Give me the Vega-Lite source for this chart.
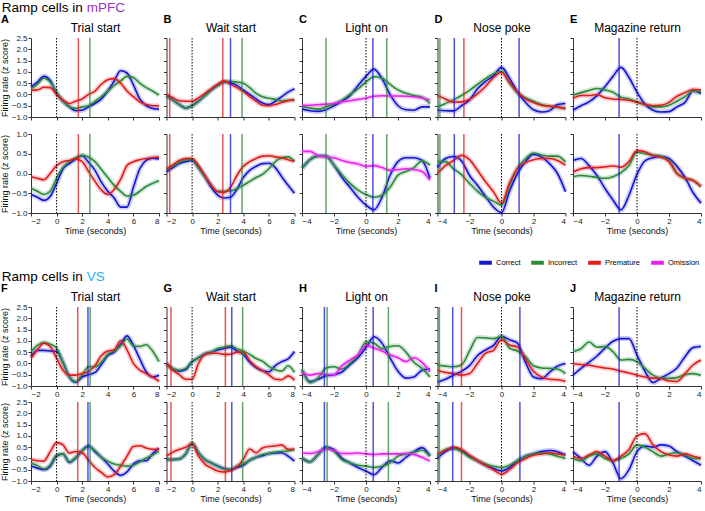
{
"$schema":"https://vega.github.io/schema/vega-lite/v6.json",
"padding":{"left":0,"top":0,"right":0,"bottom":0},
"spacing":33,
"datasets":{
"events":[
{"k":"A","s":"r","x":1.7},{"k":"A","s":"i","x":2.6},
{"k":"B","s":"r","x":-1.75},{"k":"B","s":"r","x":2.4},{"k":"B","s":"c","x":3.0},{"k":"B","s":"i","x":3.9},
{"k":"C","s":"i","x":-2.5},{"k":"C","s":"c","x":0.43},{"k":"C","s":"i","x":1.3},
{"k":"D","s":"i","x":-3.85},{"k":"D","s":"c","x":-2.95},{"k":"D","s":"r","x":-2.35},{"k":"D","s":"c","x":1.1},
{"k":"E","s":"c","x":-1.12},
{"k":"F","s":"r","x":1.65},{"k":"F","s":"c","x":2.45},{"k":"F","s":"i","x":2.62},
{"k":"G","s":"r","x":-1.65},{"k":"G","s":"r","x":2.6},{"k":"G","s":"c","x":3.1},{"k":"G","s":"i","x":3.95},
{"k":"H","s":"c","x":-2.6},{"k":"H","s":"i","x":-2.43},{"k":"H","s":"c","x":0.45},{"k":"H","s":"i","x":1.4},
{"k":"I","s":"i","x":-3.88},{"k":"I","s":"c","x":-3.05},{"k":"I","s":"r","x":-2.5},{"k":"I","s":"c","x":1.15},
{"k":"J","s":"c","x":-1.12}
],
"curves":[
{"k":"A1","t":-2,"c":0.34,"i":0.26,"r":0.19},{"k":"A1","t":-1.5,"c":0.55,"i":0.45,"r":0.2},{"k":"A1","t":-1,"c":0.8,"i":0.72,"r":0.32},{"k":"A1","t":-0.5,"c":0.62,"i":0.55,"r":0.3},{"k":"A1","t":0,"c":0.05,"i":0.1,"r":0},{"k":"A1","t":0.5,"c":-0.3,"i":-0.3,"r":-0.25},{"k":"A1","t":1,"c":-0.55,"i":-0.55,"r":-0.4},{"k":"A1","t":1.5,"c":-0.72,"i":-0.62,"r":-0.3},{"k":"A1","t":2,"c":-0.7,"i":-0.55,"r":-0.2},{"k":"A1","t":2.5,"c":-0.55,"i":-0.5,"r":0},{"k":"A1","t":3,"c":-0.4,"i":-0.3,"r":0.15},{"k":"A1","t":3.5,"c":-0.2,"i":-0.1,"r":0.45},{"k":"A1","t":4,"c":0.15,"i":0.15,"r":0.65},{"k":"A1","t":4.5,"c":0.6,"i":0.4,"r":0.7},{"k":"A1","t":5,"c":1.05,"i":0.6,"r":0.5},{"k":"A1","t":5.5,"c":0.95,"i":0.8,"r":0.15},{"k":"A1","t":6,"c":0.42,"i":0.75,"r":-0.1},{"k":"A1","t":6.5,"c":-0.2,"i":0.5,"r":-0.33},{"k":"A1","t":7,"c":-0.5,"i":0.3,"r":-0.45},{"k":"A1","t":7.5,"c":-0.62,"i":0.15,"r":-0.5},{"k":"A1","t":8,"c":-0.65,"i":-0.03,"r":-0.5},
{"k":"A2","t":-2,"c":-0.53,"i":-0.37,"r":-0.08},{"k":"A2","t":-1.5,"c":-0.6,"i":-0.45,"r":-0.12},{"k":"A2","t":-1,"c":-0.68,"i":-0.53,"r":-0.16},{"k":"A2","t":-0.5,"c":-0.58,"i":-0.45,"r":0},{"k":"A2","t":0,"c":-0.25,"i":-0.12,"r":0.2},{"k":"A2","t":0.5,"c":0.12,"i":0.15,"r":0.3},{"k":"A2","t":1,"c":0.25,"i":0.3,"r":0.33},{"k":"A2","t":1.5,"c":0.37,"i":0.4,"r":0.37},{"k":"A2","t":2,"c":0.45,"i":0.46,"r":0.3},{"k":"A2","t":2.5,"c":0.28,"i":0.42,"r":0.05},{"k":"A2","t":3,"c":0.08,"i":0.3,"r":-0.2},{"k":"A2","t":3.5,"c":-0.22,"i":0.1,"r":-0.42},{"k":"A2","t":4,"c":-0.45,"i":-0.1,"r":-0.53},{"k":"A2","t":4.5,"c":-0.62,"i":-0.3,"r":-0.4},{"k":"A2","t":5,"c":-0.85,"i":-0.45,"r":-0.15},{"k":"A2","t":5.5,"c":-0.85,"i":-0.57,"r":0.2},{"k":"A2","t":6,"c":-0.35,"i":-0.55,"r":0.3},{"k":"A2","t":6.5,"c":0.12,"i":-0.45,"r":0.35},{"k":"A2","t":7,"c":0.33,"i":-0.33,"r":0.38},{"k":"A2","t":7.5,"c":0.39,"i":-0.25,"r":0.4},{"k":"A2","t":8,"c":0.37,"i":-0.18,"r":0.42},
{"k":"B1","t":-2,"c":-0.05,"i":-0.05,"r":0},{"k":"B1","t":-1.5,"c":-0.25,"i":-0.25,"r":-0.15},{"k":"B1","t":-1,"c":-0.45,"i":-0.45,"r":-0.28},{"k":"B1","t":-0.5,"c":-0.6,"i":-0.6,"r":-0.3},{"k":"B1","t":0,"c":-0.5,"i":-0.5,"r":-0.3},{"k":"B1","t":0.5,"c":-0.3,"i":-0.3,"r":-0.15},{"k":"B1","t":1,"c":-0.05,"i":-0.05,"r":0.05},{"k":"B1","t":1.5,"c":0.2,"i":0.2,"r":0.25},{"k":"B1","t":2,"c":0.4,"i":0.4,"r":0.45},{"k":"B1","t":2.5,"c":0.55,"i":0.55,"r":0.6},{"k":"B1","t":3,"c":0.52,"i":0.58,"r":0.45},{"k":"B1","t":3.5,"c":0.4,"i":0.55,"r":0.3},{"k":"B1","t":4,"c":0.2,"i":0.5,"r":0.12},{"k":"B1","t":4.5,"c":0,"i":0.3,"r":-0.1},{"k":"B1","t":5,"c":-0.2,"i":0.05,"r":-0.3},{"k":"B1","t":5.5,"c":-0.38,"i":-0.1,"r":-0.48},{"k":"B1","t":6,"c":-0.45,"i":-0.17,"r":-0.5},{"k":"B1","t":6.5,"c":-0.3,"i":-0.22,"r":-0.45},{"k":"B1","t":7,"c":-0.1,"i":-0.28,"r":-0.35},{"k":"B1","t":7.5,"c":0.1,"i":-0.26,"r":-0.28},{"k":"B1","t":8,"c":0.25,"i":-0.25,"r":-0.25},
{"k":"B2","t":-2,"c":0.04,"i":0.1,"r":0.12},{"k":"B2","t":-1.5,"c":0.15,"i":0.18,"r":0.22},{"k":"B2","t":-1,"c":0.25,"i":0.28,"r":0.33},{"k":"B2","t":-0.5,"c":0.3,"i":0.35,"r":0.38},{"k":"B2","t":0,"c":0.33,"i":0.35,"r":0.38},{"k":"B2","t":0.5,"c":0.15,"i":0.15,"r":0.2},{"k":"B2","t":1,"c":-0.08,"i":-0.08,"r":-0.05},{"k":"B2","t":1.5,"c":-0.35,"i":-0.3,"r":-0.3},{"k":"B2","t":2,"c":-0.55,"i":-0.45,"r":-0.46},{"k":"B2","t":2.5,"c":-0.62,"i":-0.45,"r":-0.48},{"k":"B2","t":3,"c":-0.6,"i":-0.44,"r":-0.35},{"k":"B2","t":3.5,"c":-0.4,"i":-0.38,"r":-0.05},{"k":"B2","t":4,"c":-0.1,"i":-0.3,"r":0.18},{"k":"B2","t":4.5,"c":0.08,"i":-0.2,"r":0.3},{"k":"B2","t":5,"c":0.18,"i":-0.1,"r":0.38},{"k":"B2","t":5.5,"c":0.25,"i":-0.02,"r":0.44},{"k":"B2","t":6,"c":0.26,"i":0.12,"r":0.45},{"k":"B2","t":6.5,"c":0.15,"i":0.3,"r":0.42},{"k":"B2","t":7,"c":-0.08,"i":0.4,"r":0.4},{"k":"B2","t":7.5,"c":-0.3,"i":0.42,"r":0.35},{"k":"B2","t":8,"c":-0.5,"i":0.3,"r":0.31},
{"k":"C1","t":-4,"c":-0.64,"i":-0.52,"o":-0.49},{"k":"C1","t":-3.5,"c":-0.72,"i":-0.6,"o":-0.48},{"k":"C1","t":-3,"c":-0.75,"i":-0.65,"o":-0.46},{"k":"C1","t":-2.5,"c":-0.68,"i":-0.55,"o":-0.43},{"k":"C1","t":-2,"c":-0.5,"i":-0.42,"o":-0.4},{"k":"C1","t":-1.5,"c":-0.3,"i":-0.25,"o":-0.33},{"k":"C1","t":-1,"c":-0.05,"i":0,"o":-0.28},{"k":"C1","t":-0.5,"c":0.4,"i":0.25,"o":-0.22},{"k":"C1","t":0,"c":0.8,"i":0.55,"o":-0.17},{"k":"C1","t":0.5,"c":1.12,"i":0.78,"o":-0.08},{"k":"C1","t":1,"c":0.7,"i":0.72,"o":-0.06},{"k":"C1","t":1.5,"c":0,"i":0.45,"o":-0.07},{"k":"C1","t":2,"c":-0.5,"i":0.2,"o":-0.07},{"k":"C1","t":2.5,"c":-0.68,"i":0.05,"o":-0.08},{"k":"C1","t":3,"c":-0.7,"i":-0.05,"o":-0.1},{"k":"C1","t":3.5,"c":-0.55,"i":-0.12,"o":-0.16},{"k":"C1","t":4,"c":-0.55,"i":-0.4,"o":-0.25},
{"k":"C2","t":-4,"c":0.13,"i":0.13,"o":0.56},{"k":"C2","t":-3.5,"c":0.35,"i":0.35,"o":0.56},{"k":"C2","t":-3,"c":0.44,"i":0.44,"o":0.45},{"k":"C2","t":-2.5,"c":0.44,"i":0.44,"o":0.42},{"k":"C2","t":-2,"c":0.21,"i":0.21,"o":0.4},{"k":"C2","t":-1.5,"c":-0.1,"i":-0.03,"o":0.33},{"k":"C2","t":-1,"c":-0.35,"i":-0.25,"o":0.28},{"k":"C2","t":-0.5,"c":-0.6,"i":-0.42,"o":0.24},{"k":"C2","t":0,"c":-0.8,"i":-0.53,"o":0.18},{"k":"C2","t":0.5,"c":-0.92,"i":-0.6,"o":0.2},{"k":"C2","t":1,"c":-0.6,"i":-0.55,"o":0.15},{"k":"C2","t":1.5,"c":-0.05,"i":-0.35,"o":0.08},{"k":"C2","t":2,"c":0.3,"i":-0.04,"o":0.1},{"k":"C2","t":2.5,"c":0.4,"i":0.05,"o":0.12},{"k":"C2","t":3,"c":0.4,"i":0.15,"o":0.1},{"k":"C2","t":3.5,"c":0.33,"i":0.32,"o":0.05},{"k":"C2","t":4,"c":-0.12,"i":0.21,"o":-0.17},
{"k":"D1","t":-4,"c":-0.7,"i":-0.55,"r":-0.04},{"k":"D1","t":-3.5,"c":-0.72,"i":-0.4,"r":-0.2},{"k":"D1","t":-3,"c":-0.73,"i":-0.24,"r":-0.35},{"k":"D1","t":-2.5,"c":-0.5,"i":-0.05,"r":-0.33},{"k":"D1","t":-2,"c":-0.25,"i":0.18,"r":-0.22},{"k":"D1","t":-1.5,"c":0.25,"i":0.45,"r":0.02},{"k":"D1","t":-1,"c":0.58,"i":0.7,"r":0.35},{"k":"D1","t":-0.5,"c":0.82,"i":0.92,"r":0.75},{"k":"D1","t":0,"c":1.2,"i":1.03,"r":0.97},{"k":"D1","t":0.5,"c":0.72,"i":0.5,"r":0.55},{"k":"D1","t":1,"c":0.1,"i":0.08,"r":0.1},{"k":"D1","t":1.5,"c":-0.35,"i":-0.15,"r":-0.2},{"k":"D1","t":2,"c":-0.68,"i":-0.3,"r":-0.36},{"k":"D1","t":2.5,"c":-0.78,"i":-0.45,"r":-0.48},{"k":"D1","t":3,"c":-0.72,"i":-0.52,"r":-0.52},{"k":"D1","t":3.5,"c":-0.45,"i":-0.57,"r":-0.55},{"k":"D1","t":4,"c":-0.4,"i":-0.63,"r":-0.63},
{"k":"D2","t":-4,"c":0.15,"i":0.3,"r":0},{"k":"D2","t":-3.5,"c":0.38,"i":0.3,"r":0.2},{"k":"D2","t":-3,"c":0.43,"i":0.12,"r":0.33},{"k":"D2","t":-2.5,"c":0.32,"i":-0.03,"r":0.46},{"k":"D2","t":-2,"c":-0.05,"i":-0.25,"r":0.35},{"k":"D2","t":-1.5,"c":-0.3,"i":-0.45,"r":0.08},{"k":"D2","t":-1,"c":-0.58,"i":-0.6,"r":-0.21},{"k":"D2","t":-0.5,"c":-0.85,"i":-0.7,"r":-0.46},{"k":"D2","t":0,"c":-0.99,"i":-0.8,"r":-0.75},{"k":"D2","t":0.5,"c":-0.45,"i":-0.3,"r":-0.25},{"k":"D2","t":1,"c":0,"i":0.13,"r":0.13},{"k":"D2","t":1.5,"c":0.3,"i":0.38,"r":0.28},{"k":"D2","t":2,"c":0.48,"i":0.52,"r":0.35},{"k":"D2","t":2.5,"c":0.42,"i":0.47,"r":0.38},{"k":"D2","t":3,"c":0.25,"i":0.44,"r":0.38},{"k":"D2","t":3.5,"c":0,"i":0.44,"r":0.33},{"k":"D2","t":4,"c":-0.46,"i":0.29,"r":0.21},
{"k":"E1","t":-4,"c":-0.7,"i":-0.03,"r":-0.18},{"k":"E1","t":-3.5,"c":-0.5,"i":0.08,"r":-0.05},{"k":"E1","t":-3,"c":-0.33,"i":0.18,"r":-0.05},{"k":"E1","t":-2.5,"c":-0.05,"i":0.26,"r":0},{"k":"E1","t":-2,"c":0.35,"i":0.2,"r":-0.15},{"k":"E1","t":-1.5,"c":0.8,"i":0.1,"r":-0.2},{"k":"E1","t":-1,"c":1.2,"i":-0.12,"r":-0.22},{"k":"E1","t":-0.5,"c":0.75,"i":-0.2,"r":-0.26},{"k":"E1","t":0,"c":0.1,"i":-0.33,"r":-0.35},{"k":"E1","t":0.5,"c":-0.43,"i":-0.45,"r":-0.45},{"k":"E1","t":1,"c":-0.7,"i":-0.55,"r":-0.5},{"k":"E1","t":1.5,"c":-0.78,"i":-0.55,"r":-0.48},{"k":"E1","t":2,"c":-0.76,"i":-0.48,"r":-0.35},{"k":"E1","t":2.5,"c":-0.55,"i":-0.3,"r":-0.08},{"k":"E1","t":3,"c":-0.35,"i":-0.1,"r":0.08},{"k":"E1","t":3.5,"c":0.15,"i":0.15,"r":0.22},{"k":"E1","t":4,"c":0.04,"i":0.12,"r":0.2},
{"k":"E2","t":-4,"c":0.33,"i":-0.08,"r":0.04},{"k":"E2","t":-3.5,"c":0.38,"i":-0.05,"r":0.12},{"k":"E2","t":-3,"c":0.2,"i":-0.07,"r":0.15},{"k":"E2","t":-2.5,"c":-0.05,"i":-0.1,"r":0.15},{"k":"E2","t":-2,"c":-0.38,"i":-0.12,"r":0.17},{"k":"E2","t":-1.5,"c":-0.67,"i":-0.08,"r":0.19},{"k":"E2","t":-1,"c":-0.92,"i":0.02,"r":0.16},{"k":"E2","t":-0.5,"c":-0.55,"i":0.2,"r":0.3},{"k":"E2","t":0,"c":-0.02,"i":0.54,"r":0.58},{"k":"E2","t":0.5,"c":0.32,"i":0.5,"r":0.55},{"k":"E2","t":1,"c":0.4,"i":0.47,"r":0.45},{"k":"E2","t":1.5,"c":0.43,"i":0.43,"r":0.42},{"k":"E2","t":2,"c":0.38,"i":0.33,"r":0.3},{"k":"E2","t":2.5,"c":0.18,"i":0,"r":0},{"k":"E2","t":3,"c":-0.1,"i":-0.12,"r":-0.12},{"k":"E2","t":3.5,"c":-0.48,"i":-0.18,"r":-0.17},{"k":"E2","t":4,"c":-0.75,"i":-0.33,"r":-0.33},
{"k":"F1","t":-2,"c":0.3,"i":0.53,"r":0.23},{"k":"F1","t":-1.5,"c":0.58,"i":0.8,"r":0.6},{"k":"F1","t":-1,"c":0.58,"i":0.93,"r":0.9},{"k":"F1","t":-0.5,"c":0.55,"i":0.85,"r":0.75},{"k":"F1","t":0,"c":0.53,"i":0.68,"r":0.23},{"k":"F1","t":0.5,"c":0.05,"i":0.05,"r":-0.3},{"k":"F1","t":1,"c":-0.6,"i":-0.6,"r":-0.52},{"k":"F1","t":1.5,"c":-0.83,"i":-0.8,"r":-0.52},{"k":"F1","t":2,"c":-0.6,"i":-0.5,"r":-0.45},{"k":"F1","t":2.5,"c":-0.5,"i":-0.15,"r":-0.35},{"k":"F1","t":3,"c":-0.4,"i":-0.15,"r":-0.1},{"k":"F1","t":3.5,"c":-0.05,"i":0.05,"r":0.35},{"k":"F1","t":4,"c":0.35,"i":0.4,"r":0.55},{"k":"F1","t":4.5,"c":0.5,"i":0.55,"r":0.6},{"k":"F1","t":5,"c":0.85,"i":0.78,"r":1},{"k":"F1","t":5.5,"c":1.22,"i":1.08,"r":0.6},{"k":"F1","t":6,"c":0.8,"i":0.78,"r":0},{"k":"F1","t":6.5,"c":0.2,"i":0.75,"r":-0.3},{"k":"F1","t":7,"c":-0.37,"i":0.83,"r":-0.45},{"k":"F1","t":7.5,"c":-0.6,"i":0.55,"r":-0.6},{"k":"F1","t":8,"c":-0.52,"i":0.08,"r":-0.79},
{"k":"F2","t":-2,"c":-0.34,"i":-0.2,"r":-0.05},{"k":"F2","t":-1.5,"c":-0.43,"i":-0.32,"r":-0.1},{"k":"F2","t":-1,"c":-0.5,"i":-0.47,"r":-0.12},{"k":"F2","t":-0.5,"c":-0.35,"i":-0.3,"r":0.3},{"k":"F2","t":0,"c":0.1,"i":0.15,"r":0.7},{"k":"F2","t":0.5,"c":0.2,"i":0.2,"r":0.6},{"k":"F2","t":1,"c":-0.18,"i":-0.15,"r":0.24},{"k":"F2","t":1.5,"c":0.02,"i":0.05,"r":0.31},{"k":"F2","t":2,"c":0.35,"i":0.35,"r":0.25},{"k":"F2","t":2.5,"c":0.56,"i":0.52,"r":-0.08},{"k":"F2","t":3,"c":0.3,"i":0.35,"r":-0.4},{"k":"F2","t":3.5,"c":0.05,"i":0.05,"r":-0.62},{"k":"F2","t":4,"c":-0.25,"i":-0.12,"r":-0.82},{"k":"F2","t":4.5,"c":-0.56,"i":-0.25,"r":-0.72},{"k":"F2","t":5,"c":-0.75,"i":-0.3,"r":-0.35},{"k":"F2","t":5.5,"c":-0.6,"i":-0.34,"r":0.1},{"k":"F2","t":6,"c":-0.25,"i":-0.3,"r":0.53},{"k":"F2","t":6.5,"c":-0.1,"i":-0.15,"r":0.56},{"k":"F2","t":7,"c":-0.1,"i":0.02,"r":0.46},{"k":"F2","t":7.5,"c":0.2,"i":0.15,"r":0.4},{"k":"F2","t":8,"c":0.46,"i":0.31,"r":0.4},
{"k":"G1","t":-2,"c":0,"i":-0.05,"r":0},{"k":"G1","t":-1.5,"c":-0.25,"i":-0.22,"r":-0.3},{"k":"G1","t":-1,"c":-0.34,"i":-0.3,"r":-0.5},{"k":"G1","t":-0.5,"c":-0.27,"i":-0.22,"r":-0.7},{"k":"G1","t":0,"c":0.08,"i":0.08,"r":-0.7},{"k":"G1","t":0.5,"c":0.25,"i":0.25,"r":0},{"k":"G1","t":1,"c":0.42,"i":0.42,"r":0.4},{"k":"G1","t":1.5,"c":0.5,"i":0.5,"r":0.45},{"k":"G1","t":2,"c":0.6,"i":0.66,"r":0.45},{"k":"G1","t":2.5,"c":0.66,"i":0.72,"r":0.4},{"k":"G1","t":3,"c":0.72,"i":0.78,"r":0.41},{"k":"G1","t":3.5,"c":0.55,"i":0.65,"r":0.5},{"k":"G1","t":4,"c":0.4,"i":0.55,"r":0.5},{"k":"G1","t":4.5,"c":0.05,"i":0.4,"r":0.12},{"k":"G1","t":5,"c":-0.18,"i":0.22,"r":-0.15},{"k":"G1","t":5.5,"c":-0.32,"i":0.1,"r":-0.32},{"k":"G1","t":6,"c":-0.37,"i":-0.13,"r":-0.5},{"k":"G1","t":6.5,"c":-0.1,"i":-0.28,"r":-0.7},{"k":"G1","t":7,"c":0.08,"i":-0.34,"r":-0.72},{"k":"G1","t":7.5,"c":0.2,"i":-0.1,"r":-0.55},{"k":"G1","t":8,"c":0.53,"i":-0.4,"r":-0.74},
{"k":"G2","t":-2,"c":-0.05,"i":-0.05,"r":0.1},{"k":"G2","t":-1.5,"c":-0.05,"i":-0.05,"r":0.28},{"k":"G2","t":-1,"c":-0.02,"i":-0.02,"r":0.4},{"k":"G2","t":-0.5,"c":0.2,"i":0.2,"r":0.5},{"k":"G2","t":0,"c":0.65,"i":0.68,"r":0.65},{"k":"G2","t":0.5,"c":0.25,"i":0.25,"r":0.1},{"k":"G2","t":1,"c":-0.05,"i":-0.05,"r":-0.25},{"k":"G2","t":1.5,"c":-0.2,"i":-0.2,"r":-0.42},{"k":"G2","t":2,"c":-0.34,"i":-0.34,"r":-0.56},{"k":"G2","t":2.5,"c":-0.45,"i":-0.47,"r":-0.6},{"k":"G2","t":3,"c":-0.49,"i":-0.5,"r":-0.53},{"k":"G2","t":3.5,"c":-0.4,"i":-0.35,"r":-0.38},{"k":"G2","t":4,"c":-0.3,"i":-0.25,"r":-0.05},{"k":"G2","t":4.5,"c":-0.08,"i":-0.08,"r":0.42},{"k":"G2","t":5,"c":0.05,"i":0.05,"r":0.25},{"k":"G2","t":5.5,"c":0.12,"i":0.17,"r":0.46},{"k":"G2","t":6,"c":0.22,"i":0.22,"r":0.53},{"k":"G2","t":6.5,"c":0.24,"i":0.28,"r":0.55},{"k":"G2","t":7,"c":0.25,"i":0.31,"r":0.6},{"k":"G2","t":7.5,"c":0.1,"i":0.33,"r":0.4},{"k":"G2","t":8,"c":-0.12,"i":0.39,"r":0.42},
{"k":"H1","t":-4,"c":-0.3,"i":-0.25,"o":-0.4},{"k":"H1","t":-3.5,"c":-0.8,"i":-0.85,"o":-0.52},{"k":"H1","t":-3,"c":-0.7,"i":-0.65,"o":-0.45},{"k":"H1","t":-2.5,"c":-0.55,"i":-0.2,"o":-0.5},{"k":"H1","t":-2,"c":-0.5,"i":-0.15,"o":-0.5},{"k":"H1","t":-1.5,"c":-0.38,"i":-0.25,"o":-0.1},{"k":"H1","t":-1,"c":-0.05,"i":0,"o":0.15},{"k":"H1","t":-0.5,"c":0.25,"i":0.35,"o":0.38},{"k":"H1","t":0,"c":0.7,"i":0.95,"o":0.8},{"k":"H1","t":0.5,"c":1.18,"i":0.9,"o":0.68},{"k":"H1","t":1,"c":0.9,"i":0.65,"o":0.55},{"k":"H1","t":1.5,"c":0.25,"i":0.75,"o":0.38},{"k":"H1","t":2,"c":-0.35,"i":0.78,"o":0.25},{"k":"H1","t":2.5,"c":-0.65,"i":0.5,"o":0.08},{"k":"H1","t":3,"c":-0.6,"i":0.05,"o":0.25},{"k":"H1","t":3.5,"c":-0.3,"i":-0.22,"o":0.05},{"k":"H1","t":4,"c":-0.25,"i":-0.6,"o":-0.37},
{"k":"H2","t":-4,"c":0.02,"i":0.02,"o":0.24},{"k":"H2","t":-3.5,"c":-0.15,"i":-0.15,"o":0.22},{"k":"H2","t":-3,"c":0.17,"i":0.17,"o":0.3},{"k":"H2","t":-2.5,"c":0.5,"i":0.48,"o":0.42},{"k":"H2","t":-2,"c":0.39,"i":0.31,"o":0.35},{"k":"H2","t":-1.5,"c":0,"i":-0.05,"o":0.22},{"k":"H2","t":-1,"c":-0.2,"i":-0.2,"o":0.22},{"k":"H2","t":-0.5,"c":-0.4,"i":-0.3,"o":0.24},{"k":"H2","t":0,"c":-0.56,"i":-0.34,"o":0.2},{"k":"H2","t":0.5,"c":-0.72,"i":-0.4,"o":0.17},{"k":"H2","t":1,"c":-0.4,"i":-0.35,"o":0.2},{"k":"H2","t":1.5,"c":-0.1,"i":-0.2,"o":0.2},{"k":"H2","t":2,"c":-0.2,"i":0.1,"o":0.2},{"k":"H2","t":2.5,"c":0.05,"i":0.2,"o":0.22},{"k":"H2","t":3,"c":0.3,"i":0.28,"o":0.18},{"k":"H2","t":3.5,"c":0.48,"i":0.36,"o":0.05},{"k":"H2","t":4,"c":0.1,"i":0.1,"o":-0.12},
{"k":"I1","t":-4,"c":-0.82,"i":-0.07,"r":-0.3},{"k":"I1","t":-3.5,"c":-0.7,"i":-0.12,"r":-0.4},{"k":"I1","t":-3,"c":-0.52,"i":-0.15,"r":-0.45},{"k":"I1","t":-2.5,"c":-0.35,"i":-0.07,"r":-0.52},{"k":"I1","t":-2,"c":-0.1,"i":0.55,"r":-0.45},{"k":"I1","t":-1.5,"c":0.35,"i":1.15,"r":0},{"k":"I1","t":-1,"c":0.6,"i":1.13,"r":0.45},{"k":"I1","t":-0.5,"c":0.8,"i":1.1,"r":0.58},{"k":"I1","t":0,"c":1.2,"i":1.2,"r":1.05},{"k":"I1","t":0.5,"c":1.05,"i":0.68,"r":0.82},{"k":"I1","t":1,"c":0.9,"i":0.55,"r":0.72},{"k":"I1","t":1.5,"c":0.05,"i":0.3,"r":0.2},{"k":"I1","t":2,"c":-0.6,"i":-0.1,"r":-0.35},{"k":"I1","t":2.5,"c":-0.68,"i":-0.2,"r":-0.6},{"k":"I1","t":3,"c":-0.4,"i":-0.22,"r":-0.7},{"k":"I1","t":3.5,"c":-0.12,"i":-0.25,"r":-0.72},{"k":"I1","t":4,"c":0,"i":-0.45,"r":-0.79},
{"k":"I2","t":-4,"c":0,"i":0.1,"r":0.2},{"k":"I2","t":-3.5,"c":0.3,"i":0.4,"r":0.35},{"k":"I2","t":-3,"c":0.45,"i":0.45,"r":0.5},{"k":"I2","t":-2.5,"c":0.35,"i":0.3,"r":0.4},{"k":"I2","t":-2,"c":0.1,"i":0.05,"r":0.15},{"k":"I2","t":-1.5,"c":-0.1,"i":-0.1,"r":-0.1},{"k":"I2","t":-1,"c":-0.3,"i":-0.25,"r":-0.3},{"k":"I2","t":-0.5,"c":-0.45,"i":-0.35,"r":-0.5},{"k":"I2","t":0,"c":-0.55,"i":-0.4,"r":-0.7},{"k":"I2","t":0.5,"c":-0.4,"i":-0.3,"r":-0.5},{"k":"I2","t":1,"c":-0.1,"i":-0.1,"r":-0.2},{"k":"I2","t":1.5,"c":0.1,"i":0.1,"r":0},{"k":"I2","t":2,"c":0.2,"i":0.2,"r":0.15},{"k":"I2","t":2.5,"c":0.3,"i":0.25,"r":0.2},{"k":"I2","t":3,"c":0.35,"i":0.2,"r":0.25},{"k":"I2","t":3.5,"c":0.3,"i":0.1,"r":0.2},{"k":"I2","t":4,"c":0.15,"i":0,"r":0.15},
{"k":"J1","t":-4,"c":-0.52,"i":0.53,"r":0},{"k":"J1","t":-3.5,"c":-0.22,"i":0.65,"r":-0.05},{"k":"J1","t":-3,"c":0.05,"i":0.95,"r":-0.08},{"k":"J1","t":-2.5,"c":0.33,"i":0.72,"r":-0.15},{"k":"J1","t":-2,"c":0.68,"i":0.75,"r":-0.2},{"k":"J1","t":-1.5,"c":0.98,"i":0.52,"r":-0.25},{"k":"J1","t":-1,"c":1.1,"i":0.15,"r":-0.35},{"k":"J1","t":-0.5,"c":1.1,"i":0.18,"r":-0.42},{"k":"J1","t":0,"c":0.37,"i":0.08,"r":-0.52},{"k":"J1","t":0.5,"c":-0.35,"i":-0.22,"r":-0.6},{"k":"J1","t":1,"c":-0.85,"i":-0.52,"r":-0.65},{"k":"J1","t":1.5,"c":-0.65,"i":-0.65,"r":-0.67},{"k":"J1","t":2,"c":-0.45,"i":-0.66,"r":-0.78},{"k":"J1","t":2.5,"c":-0.2,"i":-0.63,"r":-0.8},{"k":"J1","t":3,"c":0.3,"i":-0.5,"r":-0.45},{"k":"J1","t":3.5,"c":0.7,"i":-0.45,"r":-0.07},{"k":"J1","t":4,"c":0.75,"i":-0.52,"r":0.15},
{"k":"J2","t":-4,"c":0.3,"i":0,"r":0.1},{"k":"J2","t":-3.5,"c":0,"i":-0.1,"r":0},{"k":"J2","t":-3,"c":-0.3,"i":0.1,"r":0.15},{"k":"J2","t":-2.5,"c":0.1,"i":0.2,"r":0.3},{"k":"J2","t":-2,"c":0.3,"i":0,"r":0.1},{"k":"J2","t":-1.5,"c":-0.2,"i":-0.1,"r":-0.1},{"k":"J2","t":-1,"c":-0.9,"i":0,"r":0.1},{"k":"J2","t":-0.5,"c":-0.5,"i":0.2,"r":0.4},{"k":"J2","t":0,"c":0.3,"i":0.6,"r":1},{"k":"J2","t":0.5,"c":0.55,"i":0.5,"r":1.1},{"k":"J2","t":1,"c":0.5,"i":0.3,"r":0.6},{"k":"J2","t":1.5,"c":0.6,"i":0.1,"r":0.3},{"k":"J2","t":2,"c":0.55,"i":0.2,"r":0.15},{"k":"J2","t":2.5,"c":0.3,"i":0.25,"r":0.1},{"k":"J2","t":3,"c":0.1,"i":0.15,"r":0.2},{"k":"J2","t":3.5,"c":-0.1,"i":0,"r":0.1},{"k":"J2","t":4,"c":-0.3,"i":0,"r":0}
]
},
"vconcat":[
{"title":{"text":"mPFC","color":"#9932cc","fontSize":13.5,"fontWeight":"normal","frame":"bounds","dx":86,"offset":-13.5},
 "vconcat":[
 {"title":{"text":"Ramp cells in","fontSize":13.5,"fontWeight":"normal","frame":"bounds","dx":1,"offset":0},
  "columns":5,"bounds":"flush","spacing":{"row":17,"column":7.5},
  "concat":[
   {"width":128,"height":79,"title":{"text":"A","dx":-30},"resolve":{"axis":{"x":"independent"}},"layer":[
    {"data":{"name":"curves"},"transform":[{"filter":"datum.k=='A1'"},{"fold":["c","i","r","o"],"as":["s","v"]},{"filter":"isValid(datum.v)"}],
     "encoding":{"x":{"field":"t","type":"quantitative","scale":{"domain":[-2,8],"nice":false,"zero":false},"axis":{"values":[-2,0,2,4,6,8],"labels":false,"title":null}},
      "y":{"field":"v","type":"quantitative","scale":{"domain":[-1,2.5],"nice":false,"zero":false},"axis":{"values":[-1,-0.5,0,0.5,1,1.5,2,2.5],"format":".1f","title":"Firing rate (z score)"}},
      "color":{"field":"s","type":"nominal","scale":{"domain":["c","i","r","o"],"range":["#1515d5","#2a8a3a","#e31a1c","#ee1fee"]},
       "legend":{"orient":"none","legendX":446,"legendY":216,"direction":"horizontal","columns":4,"title":null,"symbolType":"stroke","symbolStrokeWidth":4,"symbolSize":160,"symbolOpacity":1,"labelFontSize":7.5,"labelOffset":2,"columnPadding":2,"labelExpr":"datum.label=='c'?'Correct':datum.label=='i'?'Incorrect':datum.label=='r'?'Premature':'Omission'"}}},
     "layer":[{"mark":{"type":"line","interpolate":"monotone","strokeWidth":5,"opacity":0.22}},{"mark":{"type":"line","interpolate":"monotone","strokeWidth":1.6}}]},
    {"data":{"name":"events"},"transform":[{"filter":"datum.k=='A'"}],"mark":{"type":"rule","strokeWidth":1.5,"opacity":0.75},"encoding":{"x":{"field":"x","type":"quantitative","axis":null},"color":{"field":"s","type":"nominal"}}},
    {"data":{"values":[{}]},"mark":{"type":"rule","strokeDash":[1.5,1.5],"strokeWidth":1,"color":"#000"},"encoding":{"x":{"datum":0,"type":"quantitative","axis":{"orient":"top","title":"Trial start","domain":false,"ticks":false,"labels":false,"titleFontSize":12,"titlePadding":4,"titleColor":"#000"}}}}
   ]},
   {"width":128,"height":79,"title":{"text":"B","dx":-3},"resolve":{"axis":{"x":"independent"}},"layer":[
    {"data":{"name":"curves"},"transform":[{"filter":"datum.k=='B1'"},{"fold":["c","i","r","o"],"as":["s","v"]},{"filter":"isValid(datum.v)"}],
     "encoding":{"x":{"field":"t","type":"quantitative","scale":{"domain":[-2,8],"nice":false,"zero":false},"axis":{"values":[-2,0,2,4,6,8],"labels":false,"title":null}},
      "y":{"field":"v","type":"quantitative","scale":{"domain":[-1,2.5],"nice":false,"zero":false},"axis":{"values":[-1,-0.5,0,0.5,1,1.5,2,2.5],"labels":false,"title":null}},
      "color":{"field":"s","type":"nominal","scale":{"domain":["c","i","r","o"],"range":["#1515d5","#2a8a3a","#e31a1c","#ee1fee"]}}},
     "layer":[{"mark":{"type":"line","interpolate":"monotone","strokeWidth":5,"opacity":0.22}},{"mark":{"type":"line","interpolate":"monotone","strokeWidth":1.6}}]},
    {"data":{"name":"events"},"transform":[{"filter":"datum.k=='B'"}],"mark":{"type":"rule","strokeWidth":1.5,"opacity":0.75},"encoding":{"x":{"field":"x","type":"quantitative","axis":null},"color":{"field":"s","type":"nominal"}}},
    {"data":{"values":[{}]},"mark":{"type":"rule","strokeDash":[1.5,1.5],"strokeWidth":1,"color":"#000"},"encoding":{"x":{"datum":0,"type":"quantitative","axis":{"orient":"top","title":"Wait start","domain":false,"ticks":false,"labels":false,"titleFontSize":12,"titlePadding":4,"titleColor":"#000"}}}}
   ]},
   {"width":128,"height":79,"title":{"text":"C","dx":-3},"resolve":{"axis":{"x":"independent"}},"layer":[
    {"data":{"name":"curves"},"transform":[{"filter":"datum.k=='C1'"},{"fold":["c","i","r","o"],"as":["s","v"]},{"filter":"isValid(datum.v)"}],
     "encoding":{"x":{"field":"t","type":"quantitative","scale":{"domain":[-4,4],"nice":false,"zero":false},"axis":{"values":[-4,-2,0,2,4],"labels":false,"title":null}},
      "y":{"field":"v","type":"quantitative","scale":{"domain":[-1,2.5],"nice":false,"zero":false},"axis":{"values":[-1,-0.5,0,0.5,1,1.5,2,2.5],"labels":false,"title":null}},
      "color":{"field":"s","type":"nominal","scale":{"domain":["c","i","r","o"],"range":["#1515d5","#2a8a3a","#e31a1c","#ee1fee"]}}},
     "layer":[{"mark":{"type":"line","interpolate":"monotone","strokeWidth":5,"opacity":0.22}},{"mark":{"type":"line","interpolate":"monotone","strokeWidth":1.6}}]},
    {"data":{"name":"events"},"transform":[{"filter":"datum.k=='C'"}],"mark":{"type":"rule","strokeWidth":1.5,"opacity":0.75},"encoding":{"x":{"field":"x","type":"quantitative","axis":null},"color":{"field":"s","type":"nominal"}}},
    {"data":{"values":[{}]},"mark":{"type":"rule","strokeDash":[1.5,1.5],"strokeWidth":1,"color":"#000"},"encoding":{"x":{"datum":0,"type":"quantitative","axis":{"orient":"top","title":"Light on","domain":false,"ticks":false,"labels":false,"titleFontSize":12,"titlePadding":4,"titleColor":"#000"}}}}
   ]},
   {"width":128,"height":79,"title":{"text":"D","dx":-3},"resolve":{"axis":{"x":"independent"}},"layer":[
    {"data":{"name":"curves"},"transform":[{"filter":"datum.k=='D1'"},{"fold":["c","i","r","o"],"as":["s","v"]},{"filter":"isValid(datum.v)"}],
     "encoding":{"x":{"field":"t","type":"quantitative","scale":{"domain":[-4,4],"nice":false,"zero":false},"axis":{"values":[-4,-2,0,2,4],"labels":false,"title":null}},
      "y":{"field":"v","type":"quantitative","scale":{"domain":[-1,2.5],"nice":false,"zero":false},"axis":{"values":[-1,-0.5,0,0.5,1,1.5,2,2.5],"labels":false,"title":null}},
      "color":{"field":"s","type":"nominal","scale":{"domain":["c","i","r","o"],"range":["#1515d5","#2a8a3a","#e31a1c","#ee1fee"]}}},
     "layer":[{"mark":{"type":"line","interpolate":"monotone","strokeWidth":5,"opacity":0.22}},{"mark":{"type":"line","interpolate":"monotone","strokeWidth":1.6}}]},
    {"data":{"name":"events"},"transform":[{"filter":"datum.k=='D'"}],"mark":{"type":"rule","strokeWidth":1.5,"opacity":0.75},"encoding":{"x":{"field":"x","type":"quantitative","axis":null},"color":{"field":"s","type":"nominal"}}},
    {"data":{"values":[{}]},"mark":{"type":"rule","strokeDash":[1.5,1.5],"strokeWidth":1,"color":"#000"},"encoding":{"x":{"datum":0,"type":"quantitative","axis":{"orient":"top","title":"Nose poke","domain":false,"ticks":false,"labels":false,"titleFontSize":12,"titlePadding":4,"titleColor":"#000"}}}}
   ]},
   {"width":128,"height":79,"title":{"text":"E","dx":-3},"resolve":{"axis":{"x":"independent"}},"layer":[
    {"data":{"name":"curves"},"transform":[{"filter":"datum.k=='E1'"},{"fold":["c","i","r","o"],"as":["s","v"]},{"filter":"isValid(datum.v)"}],
     "encoding":{"x":{"field":"t","type":"quantitative","scale":{"domain":[-4,4],"nice":false,"zero":false},"axis":{"values":[-4,-2,0,2,4],"labels":false,"title":null}},
      "y":{"field":"v","type":"quantitative","scale":{"domain":[-1,2.5],"nice":false,"zero":false},"axis":{"values":[-1,-0.5,0,0.5,1,1.5,2,2.5],"labels":false,"title":null}},
      "color":{"field":"s","type":"nominal","scale":{"domain":["c","i","r","o"],"range":["#1515d5","#2a8a3a","#e31a1c","#ee1fee"]}}},
     "layer":[{"mark":{"type":"line","interpolate":"monotone","strokeWidth":5,"opacity":0.22}},{"mark":{"type":"line","interpolate":"monotone","strokeWidth":1.6}}]},
    {"data":{"name":"events"},"transform":[{"filter":"datum.k=='E'"}],"mark":{"type":"rule","strokeWidth":1.5,"opacity":0.75},"encoding":{"x":{"field":"x","type":"quantitative","axis":null},"color":{"field":"s","type":"nominal"}}},
    {"data":{"values":[{}]},"mark":{"type":"rule","strokeDash":[1.5,1.5],"strokeWidth":1,"color":"#000"},"encoding":{"x":{"datum":0,"type":"quantitative","axis":{"orient":"top","title":"Magazine return","domain":false,"ticks":false,"labels":false,"titleFontSize":12,"titlePadding":4,"titleColor":"#000"}}}}
   ]},
   {"width":128,"height":79,"resolve":{"axis":{"x":"independent"}},"layer":[
    {"data":{"name":"curves"},"transform":[{"filter":"datum.k=='A2'"},{"fold":["c","i","r","o"],"as":["s","v"]},{"filter":"isValid(datum.v)"}],
     "encoding":{"x":{"field":"t","type":"quantitative","scale":{"domain":[-2,8],"nice":false,"zero":false},"axis":{"values":[-2,0,2,4,6,8],"format":"d","title":"Time (seconds)"}},
      "y":{"field":"v","type":"quantitative","scale":{"domain":[-1,1],"nice":false,"zero":false},"axis":{"values":[-1,-0.5,0,0.5,1],"format":".1f","title":"Firing rate (z score)"}},
      "color":{"field":"s","type":"nominal","scale":{"domain":["c","i","r","o"],"range":["#1515d5","#2a8a3a","#e31a1c","#ee1fee"]}}},
     "layer":[{"mark":{"type":"line","interpolate":"monotone","strokeWidth":5,"opacity":0.22}},{"mark":{"type":"line","interpolate":"monotone","strokeWidth":1.6}}]},
    {"data":{"name":"events"},"transform":[{"filter":"datum.k=='A'"}],"mark":{"type":"rule","strokeWidth":1.5,"opacity":0.75},"encoding":{"x":{"field":"x","type":"quantitative","axis":null},"color":{"field":"s","type":"nominal"}}},
    {"data":{"values":[{}]},"mark":{"type":"rule","strokeDash":[1.5,1.5],"strokeWidth":1,"color":"#000"},"encoding":{"x":{"datum":0,"type":"quantitative","axis":null}}}
   ]},
   {"width":128,"height":79,"resolve":{"axis":{"x":"independent"}},"layer":[
    {"data":{"name":"curves"},"transform":[{"filter":"datum.k=='B2'"},{"fold":["c","i","r","o"],"as":["s","v"]},{"filter":"isValid(datum.v)"}],
     "encoding":{"x":{"field":"t","type":"quantitative","scale":{"domain":[-2,8],"nice":false,"zero":false},"axis":{"values":[-2,0,2,4,6,8],"format":"d","title":"Time (seconds)"}},
      "y":{"field":"v","type":"quantitative","scale":{"domain":[-1,1],"nice":false,"zero":false},"axis":{"values":[-1,-0.5,0,0.5,1],"labels":false,"title":null}},
      "color":{"field":"s","type":"nominal","scale":{"domain":["c","i","r","o"],"range":["#1515d5","#2a8a3a","#e31a1c","#ee1fee"]}}},
     "layer":[{"mark":{"type":"line","interpolate":"monotone","strokeWidth":5,"opacity":0.22}},{"mark":{"type":"line","interpolate":"monotone","strokeWidth":1.6}}]},
    {"data":{"name":"events"},"transform":[{"filter":"datum.k=='B'"}],"mark":{"type":"rule","strokeWidth":1.5,"opacity":0.75},"encoding":{"x":{"field":"x","type":"quantitative","axis":null},"color":{"field":"s","type":"nominal"}}},
    {"data":{"values":[{}]},"mark":{"type":"rule","strokeDash":[1.5,1.5],"strokeWidth":1,"color":"#000"},"encoding":{"x":{"datum":0,"type":"quantitative","axis":null}}}
   ]},
   {"width":128,"height":79,"resolve":{"axis":{"x":"independent"}},"layer":[
    {"data":{"name":"curves"},"transform":[{"filter":"datum.k=='C2'"},{"fold":["c","i","r","o"],"as":["s","v"]},{"filter":"isValid(datum.v)"}],
     "encoding":{"x":{"field":"t","type":"quantitative","scale":{"domain":[-4,4],"nice":false,"zero":false},"axis":{"values":[-4,-2,0,2,4],"format":"d","title":"Time (seconds)"}},
      "y":{"field":"v","type":"quantitative","scale":{"domain":[-1,1],"nice":false,"zero":false},"axis":{"values":[-1,-0.5,0,0.5,1],"labels":false,"title":null}},
      "color":{"field":"s","type":"nominal","scale":{"domain":["c","i","r","o"],"range":["#1515d5","#2a8a3a","#e31a1c","#ee1fee"]}}},
     "layer":[{"mark":{"type":"line","interpolate":"monotone","strokeWidth":5,"opacity":0.22}},{"mark":{"type":"line","interpolate":"monotone","strokeWidth":1.6}}]},
    {"data":{"name":"events"},"transform":[{"filter":"datum.k=='C'"}],"mark":{"type":"rule","strokeWidth":1.5,"opacity":0.75},"encoding":{"x":{"field":"x","type":"quantitative","axis":null},"color":{"field":"s","type":"nominal"}}},
    {"data":{"values":[{}]},"mark":{"type":"rule","strokeDash":[1.5,1.5],"strokeWidth":1,"color":"#000"},"encoding":{"x":{"datum":0,"type":"quantitative","axis":null}}}
   ]},
   {"width":128,"height":79,"resolve":{"axis":{"x":"independent"}},"layer":[
    {"data":{"name":"curves"},"transform":[{"filter":"datum.k=='D2'"},{"fold":["c","i","r","o"],"as":["s","v"]},{"filter":"isValid(datum.v)"}],
     "encoding":{"x":{"field":"t","type":"quantitative","scale":{"domain":[-4,4],"nice":false,"zero":false},"axis":{"values":[-4,-2,0,2,4],"format":"d","title":"Time (seconds)"}},
      "y":{"field":"v","type":"quantitative","scale":{"domain":[-1,1],"nice":false,"zero":false},"axis":{"values":[-1,-0.5,0,0.5,1],"labels":false,"title":null}},
      "color":{"field":"s","type":"nominal","scale":{"domain":["c","i","r","o"],"range":["#1515d5","#2a8a3a","#e31a1c","#ee1fee"]}}},
     "layer":[{"mark":{"type":"line","interpolate":"monotone","strokeWidth":5,"opacity":0.22}},{"mark":{"type":"line","interpolate":"monotone","strokeWidth":1.6}}]},
    {"data":{"name":"events"},"transform":[{"filter":"datum.k=='D'"}],"mark":{"type":"rule","strokeWidth":1.5,"opacity":0.75},"encoding":{"x":{"field":"x","type":"quantitative","axis":null},"color":{"field":"s","type":"nominal"}}},
    {"data":{"values":[{}]},"mark":{"type":"rule","strokeDash":[1.5,1.5],"strokeWidth":1,"color":"#000"},"encoding":{"x":{"datum":0,"type":"quantitative","axis":null}}}
   ]},
   {"width":128,"height":79,"resolve":{"axis":{"x":"independent"}},"layer":[
    {"data":{"name":"curves"},"transform":[{"filter":"datum.k=='E2'"},{"fold":["c","i","r","o"],"as":["s","v"]},{"filter":"isValid(datum.v)"}],
     "encoding":{"x":{"field":"t","type":"quantitative","scale":{"domain":[-4,4],"nice":false,"zero":false},"axis":{"values":[-4,-2,0,2,4],"format":"d","title":"Time (seconds)"}},
      "y":{"field":"v","type":"quantitative","scale":{"domain":[-1,1],"nice":false,"zero":false},"axis":{"values":[-1,-0.5,0,0.5,1],"labels":false,"title":null}},
      "color":{"field":"s","type":"nominal","scale":{"domain":["c","i","r","o"],"range":["#1515d5","#2a8a3a","#e31a1c","#ee1fee"]}}},
     "layer":[{"mark":{"type":"line","interpolate":"monotone","strokeWidth":5,"opacity":0.22}},{"mark":{"type":"line","interpolate":"monotone","strokeWidth":1.6}}]},
    {"data":{"name":"events"},"transform":[{"filter":"datum.k=='E'"}],"mark":{"type":"rule","strokeWidth":1.5,"opacity":0.75},"encoding":{"x":{"field":"x","type":"quantitative","axis":null},"color":{"field":"s","type":"nominal"}}},
    {"data":{"values":[{}]},"mark":{"type":"rule","strokeDash":[1.5,1.5],"strokeWidth":1,"color":"#000"},"encoding":{"x":{"datum":0,"type":"quantitative","axis":null}}}
   ]}
  ]}
 ]},
{"title":{"text":"VS","color":"#1fb3ea","fontSize":13.5,"fontWeight":"normal","frame":"bounds","dx":86,"offset":-13.5},
 "vconcat":[
 {"title":{"text":"Ramp cells in","fontSize":13.5,"fontWeight":"normal","frame":"bounds","dx":1,"offset":0},
  "columns":5,"bounds":"flush","spacing":{"row":16,"column":7.5},
  "concat":[
   {"width":128,"height":79,"title":{"text":"F","dx":-30},"resolve":{"axis":{"x":"independent"}},"layer":[
    {"data":{"name":"curves"},"transform":[{"filter":"datum.k=='F1'"},{"fold":["c","i","r","o"],"as":["s","v"]},{"filter":"isValid(datum.v)"}],
     "encoding":{"x":{"field":"t","type":"quantitative","scale":{"domain":[-2,8],"nice":false,"zero":false},"axis":{"values":[-2,0,2,4,6,8],"format":"d","title":null}},
      "y":{"field":"v","type":"quantitative","scale":{"domain":[-1,2.5],"nice":false,"zero":false},"axis":{"values":[-1,-0.5,0,0.5,1,1.5,2,2.5],"format":".1f","title":"Firing rate (z score)"}},
      "color":{"field":"s","type":"nominal","scale":{"domain":["c","i","r","o"],"range":["#1515d5","#2a8a3a","#e31a1c","#ee1fee"]}}},
     "layer":[{"mark":{"type":"line","interpolate":"monotone","strokeWidth":5,"opacity":0.22}},{"mark":{"type":"line","interpolate":"monotone","strokeWidth":1.6}}]},
    {"data":{"name":"events"},"transform":[{"filter":"datum.k=='F'"}],"mark":{"type":"rule","strokeWidth":1.5,"opacity":0.75},"encoding":{"x":{"field":"x","type":"quantitative","axis":null},"color":{"field":"s","type":"nominal"}}},
    {"data":{"values":[{}]},"mark":{"type":"rule","strokeDash":[1.5,1.5],"strokeWidth":1,"color":"#000"},"encoding":{"x":{"datum":0,"type":"quantitative","axis":{"orient":"top","title":"Trial start","domain":false,"ticks":false,"labels":false,"titleFontSize":12,"titlePadding":4,"titleColor":"#000"}}}}
   ]},
   {"width":128,"height":79,"title":{"text":"G","dx":-3},"resolve":{"axis":{"x":"independent"}},"layer":[
    {"data":{"name":"curves"},"transform":[{"filter":"datum.k=='G1'"},{"fold":["c","i","r","o"],"as":["s","v"]},{"filter":"isValid(datum.v)"}],
     "encoding":{"x":{"field":"t","type":"quantitative","scale":{"domain":[-2,8],"nice":false,"zero":false},"axis":{"values":[-2,0,2,4,6,8],"format":"d","title":null}},
      "y":{"field":"v","type":"quantitative","scale":{"domain":[-1,2.5],"nice":false,"zero":false},"axis":{"values":[-1,-0.5,0,0.5,1,1.5,2,2.5],"labels":false,"title":null}},
      "color":{"field":"s","type":"nominal","scale":{"domain":["c","i","r","o"],"range":["#1515d5","#2a8a3a","#e31a1c","#ee1fee"]}}},
     "layer":[{"mark":{"type":"line","interpolate":"monotone","strokeWidth":5,"opacity":0.22}},{"mark":{"type":"line","interpolate":"monotone","strokeWidth":1.6}}]},
    {"data":{"name":"events"},"transform":[{"filter":"datum.k=='G'"}],"mark":{"type":"rule","strokeWidth":1.5,"opacity":0.75},"encoding":{"x":{"field":"x","type":"quantitative","axis":null},"color":{"field":"s","type":"nominal"}}},
    {"data":{"values":[{}]},"mark":{"type":"rule","strokeDash":[1.5,1.5],"strokeWidth":1,"color":"#000"},"encoding":{"x":{"datum":0,"type":"quantitative","axis":{"orient":"top","title":"Wait start","domain":false,"ticks":false,"labels":false,"titleFontSize":12,"titlePadding":4,"titleColor":"#000"}}}}
   ]},
   {"width":128,"height":79,"title":{"text":"H","dx":-3},"resolve":{"axis":{"x":"independent"}},"layer":[
    {"data":{"name":"curves"},"transform":[{"filter":"datum.k=='H1'"},{"fold":["c","i","r","o"],"as":["s","v"]},{"filter":"isValid(datum.v)"}],
     "encoding":{"x":{"field":"t","type":"quantitative","scale":{"domain":[-4,4],"nice":false,"zero":false},"axis":{"values":[-4,-2,0,2,4],"format":"d","title":null}},
      "y":{"field":"v","type":"quantitative","scale":{"domain":[-1,2.5],"nice":false,"zero":false},"axis":{"values":[-1,-0.5,0,0.5,1,1.5,2,2.5],"labels":false,"title":null}},
      "color":{"field":"s","type":"nominal","scale":{"domain":["c","i","r","o"],"range":["#1515d5","#2a8a3a","#e31a1c","#ee1fee"]}}},
     "layer":[{"mark":{"type":"line","interpolate":"monotone","strokeWidth":5,"opacity":0.22}},{"mark":{"type":"line","interpolate":"monotone","strokeWidth":1.6}}]},
    {"data":{"name":"events"},"transform":[{"filter":"datum.k=='H'"}],"mark":{"type":"rule","strokeWidth":1.5,"opacity":0.75},"encoding":{"x":{"field":"x","type":"quantitative","axis":null},"color":{"field":"s","type":"nominal"}}},
    {"data":{"values":[{}]},"mark":{"type":"rule","strokeDash":[1.5,1.5],"strokeWidth":1,"color":"#000"},"encoding":{"x":{"datum":0,"type":"quantitative","axis":{"orient":"top","title":"Light on","domain":false,"ticks":false,"labels":false,"titleFontSize":12,"titlePadding":4,"titleColor":"#000"}}}}
   ]},
   {"width":128,"height":79,"title":{"text":"I","dx":-3},"resolve":{"axis":{"x":"independent"}},"layer":[
    {"data":{"name":"curves"},"transform":[{"filter":"datum.k=='I1'"},{"fold":["c","i","r","o"],"as":["s","v"]},{"filter":"isValid(datum.v)"}],
     "encoding":{"x":{"field":"t","type":"quantitative","scale":{"domain":[-4,4],"nice":false,"zero":false},"axis":{"values":[-4,-2,0,2,4],"format":"d","title":null}},
      "y":{"field":"v","type":"quantitative","scale":{"domain":[-1,2.5],"nice":false,"zero":false},"axis":{"values":[-1,-0.5,0,0.5,1,1.5,2,2.5],"labels":false,"title":null}},
      "color":{"field":"s","type":"nominal","scale":{"domain":["c","i","r","o"],"range":["#1515d5","#2a8a3a","#e31a1c","#ee1fee"]}}},
     "layer":[{"mark":{"type":"line","interpolate":"monotone","strokeWidth":5,"opacity":0.22}},{"mark":{"type":"line","interpolate":"monotone","strokeWidth":1.6}}]},
    {"data":{"name":"events"},"transform":[{"filter":"datum.k=='I'"}],"mark":{"type":"rule","strokeWidth":1.5,"opacity":0.75},"encoding":{"x":{"field":"x","type":"quantitative","axis":null},"color":{"field":"s","type":"nominal"}}},
    {"data":{"values":[{}]},"mark":{"type":"rule","strokeDash":[1.5,1.5],"strokeWidth":1,"color":"#000"},"encoding":{"x":{"datum":0,"type":"quantitative","axis":{"orient":"top","title":"Nose poke","domain":false,"ticks":false,"labels":false,"titleFontSize":12,"titlePadding":4,"titleColor":"#000"}}}}
   ]},
   {"width":128,"height":79,"title":{"text":"J","dx":-3},"resolve":{"axis":{"x":"independent"}},"layer":[
    {"data":{"name":"curves"},"transform":[{"filter":"datum.k=='J1'"},{"fold":["c","i","r","o"],"as":["s","v"]},{"filter":"isValid(datum.v)"}],
     "encoding":{"x":{"field":"t","type":"quantitative","scale":{"domain":[-4,4],"nice":false,"zero":false},"axis":{"values":[-4,-2,0,2,4],"format":"d","title":null}},
      "y":{"field":"v","type":"quantitative","scale":{"domain":[-1,2.5],"nice":false,"zero":false},"axis":{"values":[-1,-0.5,0,0.5,1,1.5,2,2.5],"labels":false,"title":null}},
      "color":{"field":"s","type":"nominal","scale":{"domain":["c","i","r","o"],"range":["#1515d5","#2a8a3a","#e31a1c","#ee1fee"]}}},
     "layer":[{"mark":{"type":"line","interpolate":"monotone","strokeWidth":5,"opacity":0.22}},{"mark":{"type":"line","interpolate":"monotone","strokeWidth":1.6}}]},
    {"data":{"name":"events"},"transform":[{"filter":"datum.k=='J'"}],"mark":{"type":"rule","strokeWidth":1.5,"opacity":0.75},"encoding":{"x":{"field":"x","type":"quantitative","axis":null},"color":{"field":"s","type":"nominal"}}},
    {"data":{"values":[{}]},"mark":{"type":"rule","strokeDash":[1.5,1.5],"strokeWidth":1,"color":"#000"},"encoding":{"x":{"datum":0,"type":"quantitative","axis":{"orient":"top","title":"Magazine return","domain":false,"ticks":false,"labels":false,"titleFontSize":12,"titlePadding":4,"titleColor":"#000"}}}}
   ]},
   {"width":128,"height":79,"resolve":{"axis":{"x":"independent"}},"layer":[
    {"data":{"name":"curves"},"transform":[{"filter":"datum.k=='F2'"},{"fold":["c","i","r","o"],"as":["s","v"]},{"filter":"isValid(datum.v)"}],
     "encoding":{"x":{"field":"t","type":"quantitative","scale":{"domain":[-2,8],"nice":false,"zero":false},"axis":{"values":[-2,0,2,4,6,8],"format":"d","title":"Time (seconds)"}},
      "y":{"field":"v","type":"quantitative","scale":{"domain":[-1,2.5],"nice":false,"zero":false},"axis":{"values":[-1,-0.5,0,0.5,1,1.5,2,2.5],"format":".1f","title":"Firing rate (z score)"}},
      "color":{"field":"s","type":"nominal","scale":{"domain":["c","i","r","o"],"range":["#1515d5","#2a8a3a","#e31a1c","#ee1fee"]}}},
     "layer":[{"mark":{"type":"line","interpolate":"monotone","strokeWidth":5,"opacity":0.22}},{"mark":{"type":"line","interpolate":"monotone","strokeWidth":1.6}}]},
    {"data":{"name":"events"},"transform":[{"filter":"datum.k=='F'"}],"mark":{"type":"rule","strokeWidth":1.5,"opacity":0.75},"encoding":{"x":{"field":"x","type":"quantitative","axis":null},"color":{"field":"s","type":"nominal"}}},
    {"data":{"values":[{}]},"mark":{"type":"rule","strokeDash":[1.5,1.5],"strokeWidth":1,"color":"#000"},"encoding":{"x":{"datum":0,"type":"quantitative","axis":null}}}
   ]},
   {"width":128,"height":79,"resolve":{"axis":{"x":"independent"}},"layer":[
    {"data":{"name":"curves"},"transform":[{"filter":"datum.k=='G2'"},{"fold":["c","i","r","o"],"as":["s","v"]},{"filter":"isValid(datum.v)"}],
     "encoding":{"x":{"field":"t","type":"quantitative","scale":{"domain":[-2,8],"nice":false,"zero":false},"axis":{"values":[-2,0,2,4,6,8],"format":"d","title":"Time (seconds)"}},
      "y":{"field":"v","type":"quantitative","scale":{"domain":[-1,2.5],"nice":false,"zero":false},"axis":{"values":[-1,-0.5,0,0.5,1,1.5,2,2.5],"labels":false,"title":null}},
      "color":{"field":"s","type":"nominal","scale":{"domain":["c","i","r","o"],"range":["#1515d5","#2a8a3a","#e31a1c","#ee1fee"]}}},
     "layer":[{"mark":{"type":"line","interpolate":"monotone","strokeWidth":5,"opacity":0.22}},{"mark":{"type":"line","interpolate":"monotone","strokeWidth":1.6}}]},
    {"data":{"name":"events"},"transform":[{"filter":"datum.k=='G'"}],"mark":{"type":"rule","strokeWidth":1.5,"opacity":0.75},"encoding":{"x":{"field":"x","type":"quantitative","axis":null},"color":{"field":"s","type":"nominal"}}},
    {"data":{"values":[{}]},"mark":{"type":"rule","strokeDash":[1.5,1.5],"strokeWidth":1,"color":"#000"},"encoding":{"x":{"datum":0,"type":"quantitative","axis":null}}}
   ]},
   {"width":128,"height":79,"resolve":{"axis":{"x":"independent"}},"layer":[
    {"data":{"name":"curves"},"transform":[{"filter":"datum.k=='H2'"},{"fold":["c","i","r","o"],"as":["s","v"]},{"filter":"isValid(datum.v)"}],
     "encoding":{"x":{"field":"t","type":"quantitative","scale":{"domain":[-4,4],"nice":false,"zero":false},"axis":{"values":[-4,-2,0,2,4],"format":"d","title":"Time (seconds)"}},
      "y":{"field":"v","type":"quantitative","scale":{"domain":[-1,2.5],"nice":false,"zero":false},"axis":{"values":[-1,-0.5,0,0.5,1,1.5,2,2.5],"labels":false,"title":null}},
      "color":{"field":"s","type":"nominal","scale":{"domain":["c","i","r","o"],"range":["#1515d5","#2a8a3a","#e31a1c","#ee1fee"]}}},
     "layer":[{"mark":{"type":"line","interpolate":"monotone","strokeWidth":5,"opacity":0.22}},{"mark":{"type":"line","interpolate":"monotone","strokeWidth":1.6}}]},
    {"data":{"name":"events"},"transform":[{"filter":"datum.k=='H'"}],"mark":{"type":"rule","strokeWidth":1.5,"opacity":0.75},"encoding":{"x":{"field":"x","type":"quantitative","axis":null},"color":{"field":"s","type":"nominal"}}},
    {"data":{"values":[{}]},"mark":{"type":"rule","strokeDash":[1.5,1.5],"strokeWidth":1,"color":"#000"},"encoding":{"x":{"datum":0,"type":"quantitative","axis":null}}}
   ]},
   {"width":128,"height":79,"resolve":{"axis":{"x":"independent"}},"layer":[
    {"data":{"name":"curves"},"transform":[{"filter":"datum.k=='I2'"},{"fold":["c","i","r","o"],"as":["s","v"]},{"filter":"isValid(datum.v)"}],
     "encoding":{"x":{"field":"t","type":"quantitative","scale":{"domain":[-4,4],"nice":false,"zero":false},"axis":{"values":[-4,-2,0,2,4],"format":"d","title":"Time (seconds)"}},
      "y":{"field":"v","type":"quantitative","scale":{"domain":[-1,2.5],"nice":false,"zero":false},"axis":{"values":[-1,-0.5,0,0.5,1,1.5,2,2.5],"labels":false,"title":null}},
      "color":{"field":"s","type":"nominal","scale":{"domain":["c","i","r","o"],"range":["#1515d5","#2a8a3a","#e31a1c","#ee1fee"]}}},
     "layer":[{"mark":{"type":"line","interpolate":"monotone","strokeWidth":5,"opacity":0.22}},{"mark":{"type":"line","interpolate":"monotone","strokeWidth":1.6}}]},
    {"data":{"name":"events"},"transform":[{"filter":"datum.k=='I'"}],"mark":{"type":"rule","strokeWidth":1.5,"opacity":0.75},"encoding":{"x":{"field":"x","type":"quantitative","axis":null},"color":{"field":"s","type":"nominal"}}},
    {"data":{"values":[{}]},"mark":{"type":"rule","strokeDash":[1.5,1.5],"strokeWidth":1,"color":"#000"},"encoding":{"x":{"datum":0,"type":"quantitative","axis":null}}}
   ]},
   {"width":128,"height":79,"resolve":{"axis":{"x":"independent"}},"layer":[
    {"data":{"name":"curves"},"transform":[{"filter":"datum.k=='J2'"},{"fold":["c","i","r","o"],"as":["s","v"]},{"filter":"isValid(datum.v)"}],
     "encoding":{"x":{"field":"t","type":"quantitative","scale":{"domain":[-4,4],"nice":false,"zero":false},"axis":{"values":[-4,-2,0,2,4],"format":"d","title":"Time (seconds)"}},
      "y":{"field":"v","type":"quantitative","scale":{"domain":[-1,2.5],"nice":false,"zero":false},"axis":{"values":[-1,-0.5,0,0.5,1,1.5,2,2.5],"labels":false,"title":null}},
      "color":{"field":"s","type":"nominal","scale":{"domain":["c","i","r","o"],"range":["#1515d5","#2a8a3a","#e31a1c","#ee1fee"]}}},
     "layer":[{"mark":{"type":"line","interpolate":"monotone","strokeWidth":5,"opacity":0.22}},{"mark":{"type":"line","interpolate":"monotone","strokeWidth":1.6}}]},
    {"data":{"name":"events"},"transform":[{"filter":"datum.k=='J'"}],"mark":{"type":"rule","strokeWidth":1.5,"opacity":0.75},"encoding":{"x":{"field":"x","type":"quantitative","axis":null},"color":{"field":"s","type":"nominal"}}},
    {"data":{"values":[{}]},"mark":{"type":"rule","strokeDash":[1.5,1.5],"strokeWidth":1,"color":"#000"},"encoding":{"x":{"datum":0,"type":"quantitative","axis":null}}}
   ]}
  ]}
 ]}
],
"config":{
 "font":"Liberation Sans",
 "view":{"stroke":null},
 "axis":{"grid":false,"domainColor":"#333","domainWidth":1,"tickColor":"#333","tickSize":3,"tickWidth":1,"labelFontSize":8,"labelColor":"#222","labelPadding":1,"titleFontSize":9,"titleFontWeight":"normal","titleColor":"#111","titlePadding":1.5},
 "title":{"fontSize":11,"fontWeight":"bold","color":"#000","anchor":"start","frame":"group","offset":-4},
 "legend":{"symbolOpacity":1}
}
}
